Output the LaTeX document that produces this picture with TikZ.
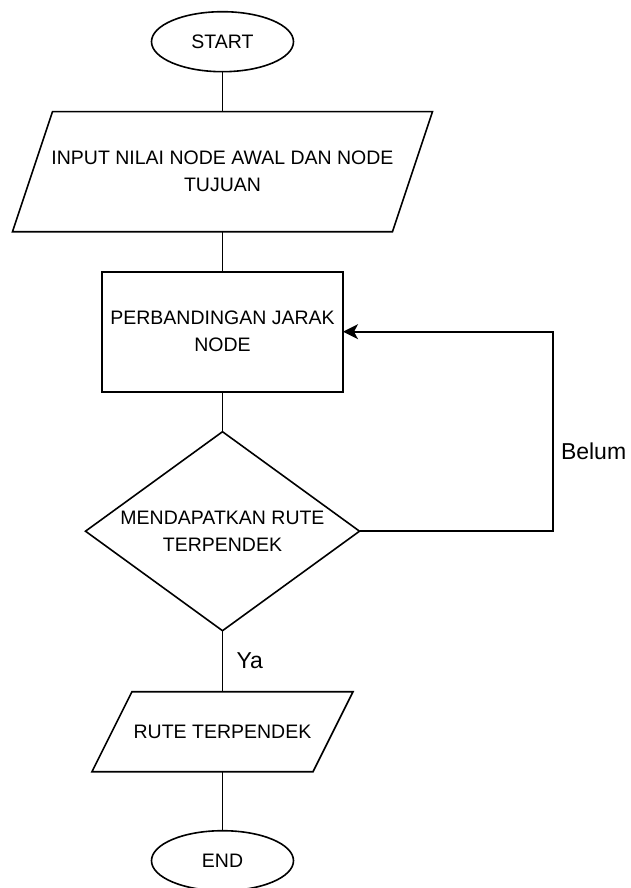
\documentclass[tikz,border=0pt]{standalone}
\usepackage{fontspec}
\setmainfont{Liberation Sans}
\usepackage{tikz}
\usetikzlibrary{shapes.geometric, positioning, calc, arrows.meta}
\tikzset{every node/.style={font=\fontsize{19.5}{27}\selectfont, align=center, inner sep=0pt, outer sep=0pt},
    terminal/.style={draw, ellipse, minimum width=142pt, minimum height=60pt},
    io/.style={rectangle, minimum width=380pt, minimum height=120pt,
        append after command={\pgfextra{\draw
            ([xshift=20pt]\tikzlastnode.north west) -- ([xshift=20pt]\tikzlastnode.north east)
            -- ([xshift=-20pt]\tikzlastnode.south east) -- ([xshift=-20pt]\tikzlastnode.south west)
            -- cycle;}}},
    iosmall/.style={io, minimum width=221pt, minimum height=80pt},
    process/.style={draw, rectangle, minimum width=241pt, minimum height=120pt},
    decision/.style={draw, diamond, shape aspect=1.377, inner sep=-8pt,
        minimum width=274pt, minimum height=199pt},
    lbl/.style={font=\fontsize{23}{27}\selectfont},
    line/.style={draw},
    arrow/.style={draw, -{Stealth[length=15pt, width=15pt, inset=4pt]}},
    node distance=40pt}

\begin{document}
\begin{tikzpicture}[line width=1.6pt]
    \useasboundingbox (-222.5pt,41.7pt) rectangle (407.5pt,-846.3pt);
    \node[terminal] (start) at (0,0) {START};
    \node[io, below=of start] (inp) {INPUT NILAI NODE AWAL DAN NODE\\TUJUAN};
    \node[process, below=of inp] (cmp) {PERBANDINGAN JARAK\\NODE};
    \node[decision, below=of cmp] (dec) {MENDAPATKAN RUTE\\TERPENDEK};
    \node[iosmall, below=61pt of dec] (out) {RUTE TERPENDEK};
    \node[terminal, below=59pt of out] (stop) {END};
    \coordinate (loop) at ($(dec.east)+(193.5pt,0)$);

    % alur utama
    \path[line] (start) -- (inp);
    \path[line] (inp) -- (cmp);
    \path[line] (cmp) -- (dec);
    \path[line] (dec) -- (out);
    \path[line] (out) -- (stop);

    % kembali ke perbandingan
    \path[arrow] (dec.east) -- (loop) |- (cmp.east);
    \node[lbl, anchor=west] (belum) at ($(loop)+(8pt,80pt)$) {Belum};
    \node[lbl, anchor=west] (ya) at ($(dec.south)+(14pt,-30pt)$) {Ya};
\end{tikzpicture}
\end{document}
